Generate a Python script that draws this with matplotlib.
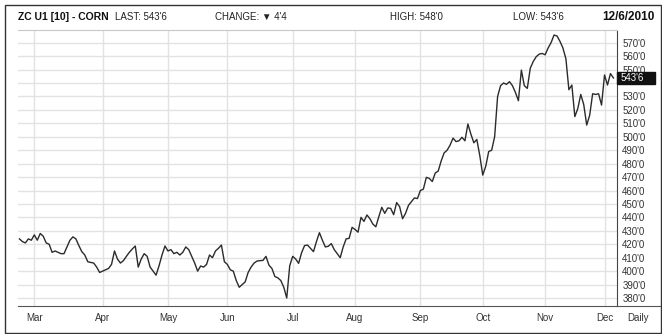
import matplotlib
matplotlib.use("Agg")
import matplotlib.pyplot as plt
import matplotlib.patches as mpatches
import matplotlib.transforms as mtransforms

plt.rcParams['font.family'] = ['Liberation Sans', 'DejaVu Sans']

# daily settles (cents/bu), one per trading day, Feb 22 .. Dec 6 2010
prices = [
    424, 422, 421, 424, 423, 427, 423, 428, 426, 421,
    420, 414, 415, 414, 413, 413, 418, 423, 425.5, 424,
    419, 414.5, 412, 407, 406.5, 406, 403, 399, 400, 401,
    402, 405, 415, 409, 406, 407.8, 411, 414, 416.5, 418.7,
    403, 409, 413, 411, 403, 400, 397, 404, 412, 418.7,
    415, 416, 413, 414, 412, 414, 418, 416, 411, 406,
    400, 403.8, 403, 405, 412, 410, 415, 417, 419.4, 407,
    405, 401, 400, 393, 388, 390, 392, 399, 403, 406,
    407.5, 407.8, 408, 411, 404.5, 402, 396, 395, 393, 388,
    380, 404, 411, 409, 405.8, 413.7, 419, 419.4, 417, 414.5,
    422, 428.6, 423, 418, 418.5, 420.5, 416, 413, 410, 418,
    424, 424.4, 432.6, 431, 429, 440, 437, 441.8, 439, 435,
    433, 440.5, 447.5, 443, 447, 446.7, 442, 451, 448, 439,
    443, 449, 451.7, 454.5, 454, 460, 461, 469.8, 469, 466.7,
    473, 474.5, 482, 488, 490, 493.8, 499, 496.4, 497, 499.6,
    497, 509.5, 502, 495.5, 498, 486, 471.5, 478, 489, 490,
    500, 530, 538, 540, 539, 541, 538, 533, 526.8, 549.6,
    538, 536, 551, 556, 559.6, 561.5, 562, 561, 566, 570,
    575.7, 575, 571, 566, 558, 535, 538.5, 515, 521, 531.5,
    524, 508.7, 516, 532, 531.5, 532, 523.6, 546, 538.5, 547,
    543.75,
]
month_labels = ['Mar', 'Apr', 'May', 'Jun', 'Jul', 'Aug', 'Sep', 'Oct', 'Nov', 'Dec']
month_starts = [5, 28, 50, 70, 92, 113, 135, 156, 177, 197]
y_ticks = list(range(380, 571, 10))

last_label = "543'6"
header = [
    ("LAST: 543'6", 115),
    ("CHANGE: \u25bc 4'4", 215),
    ("HIGH: 548'0", 390),
    ("LOW: 543'6", 513),
]

W, H = 662, 334
fig = plt.figure(figsize=(W / 100, H / 100), dpi=100)
ax = fig.add_axes([18 / W, 28 / H, (616.7 - 18) / W, (306 - 30) / H])

ax.plot(range(len(prices)), prices, color='#2b2b2b', lw=1.0, zorder=3)

ax.set_xlim(-0.49, 201.1)
ax.set_ylim(374.05, 579.45)

ax.set_xticks(month_starts)
ax.set_xticklabels(month_labels)
ax.set_yticks(y_ticks)
# the 540 label sits fully behind the last-price box
ax.set_yticklabels(['' if v == 540 else f"{v}'0" for v in y_ticks])
ax.yaxis.tick_right()
ax.tick_params(axis='both', length=0, labelsize=7, colors='#333333')
ax.tick_params(axis='y', pad=4)
ax.tick_params(axis='x', pad=5)
ax.grid(True, color='#e2e2e2', lw=1.0)
ax.set_axisbelow(True)

ax.spines['left'].set_visible(False)
ax.spines['top'].set_color('#c8c8c8')
ax.spines['right'].set_color('#444444')
ax.spines['bottom'].set_color('#555555')

# bottom axis line carries on under the price scale
fig.add_artist(plt.Line2D([616.7 / W, 660 / W], [28 / H, 28 / H],
                          color='#555555', lw=0.8, transform=fig.transFigure))

# last price box on the right scale
trans = mtransforms.blended_transform_factory(ax.transAxes, ax.transData)
ax.add_patch(mpatches.Rectangle((1.0, prices[-1] - 4.2), 38 / 598.7, 8.4,
                                transform=trans, clip_on=False,
                                facecolor='#111111', edgecolor='#111111', zorder=5))
ax.text(1.0 + 4 / 598.7, prices[-1], last_label, transform=trans, color='white',
        fontsize=7, va='center', ha='left', zorder=6)

fig.text(638 / W, 1 - 318 / H, 'Daily', fontsize=7, color='#333333',
         ha='center', va='center')

# header
fig.text(18 / W, 1 - 17 / H, 'ZC U1 [10] - CORN', fontsize=7.5, fontweight='bold',
         ha='left', va='center', color='#111111')
for txt, x in header:
    fig.text(x / W, 1 - 17 / H, txt, fontsize=7, ha='left', va='center', color='#222222')
fig.text(655 / W, 1 - 17 / H, '12/6/2010', fontsize=8.5, fontweight='bold',
         ha='right', va='center', color='#111111')

# outer frame
fig.add_artist(mpatches.Rectangle((5 / W, 1 / H), 656 / W, 328 / H, fill=False,
                                  edgecolor='#333333', lw=1.0, transform=fig.transFigure))

fig.savefig('out.png', dpi=100)
